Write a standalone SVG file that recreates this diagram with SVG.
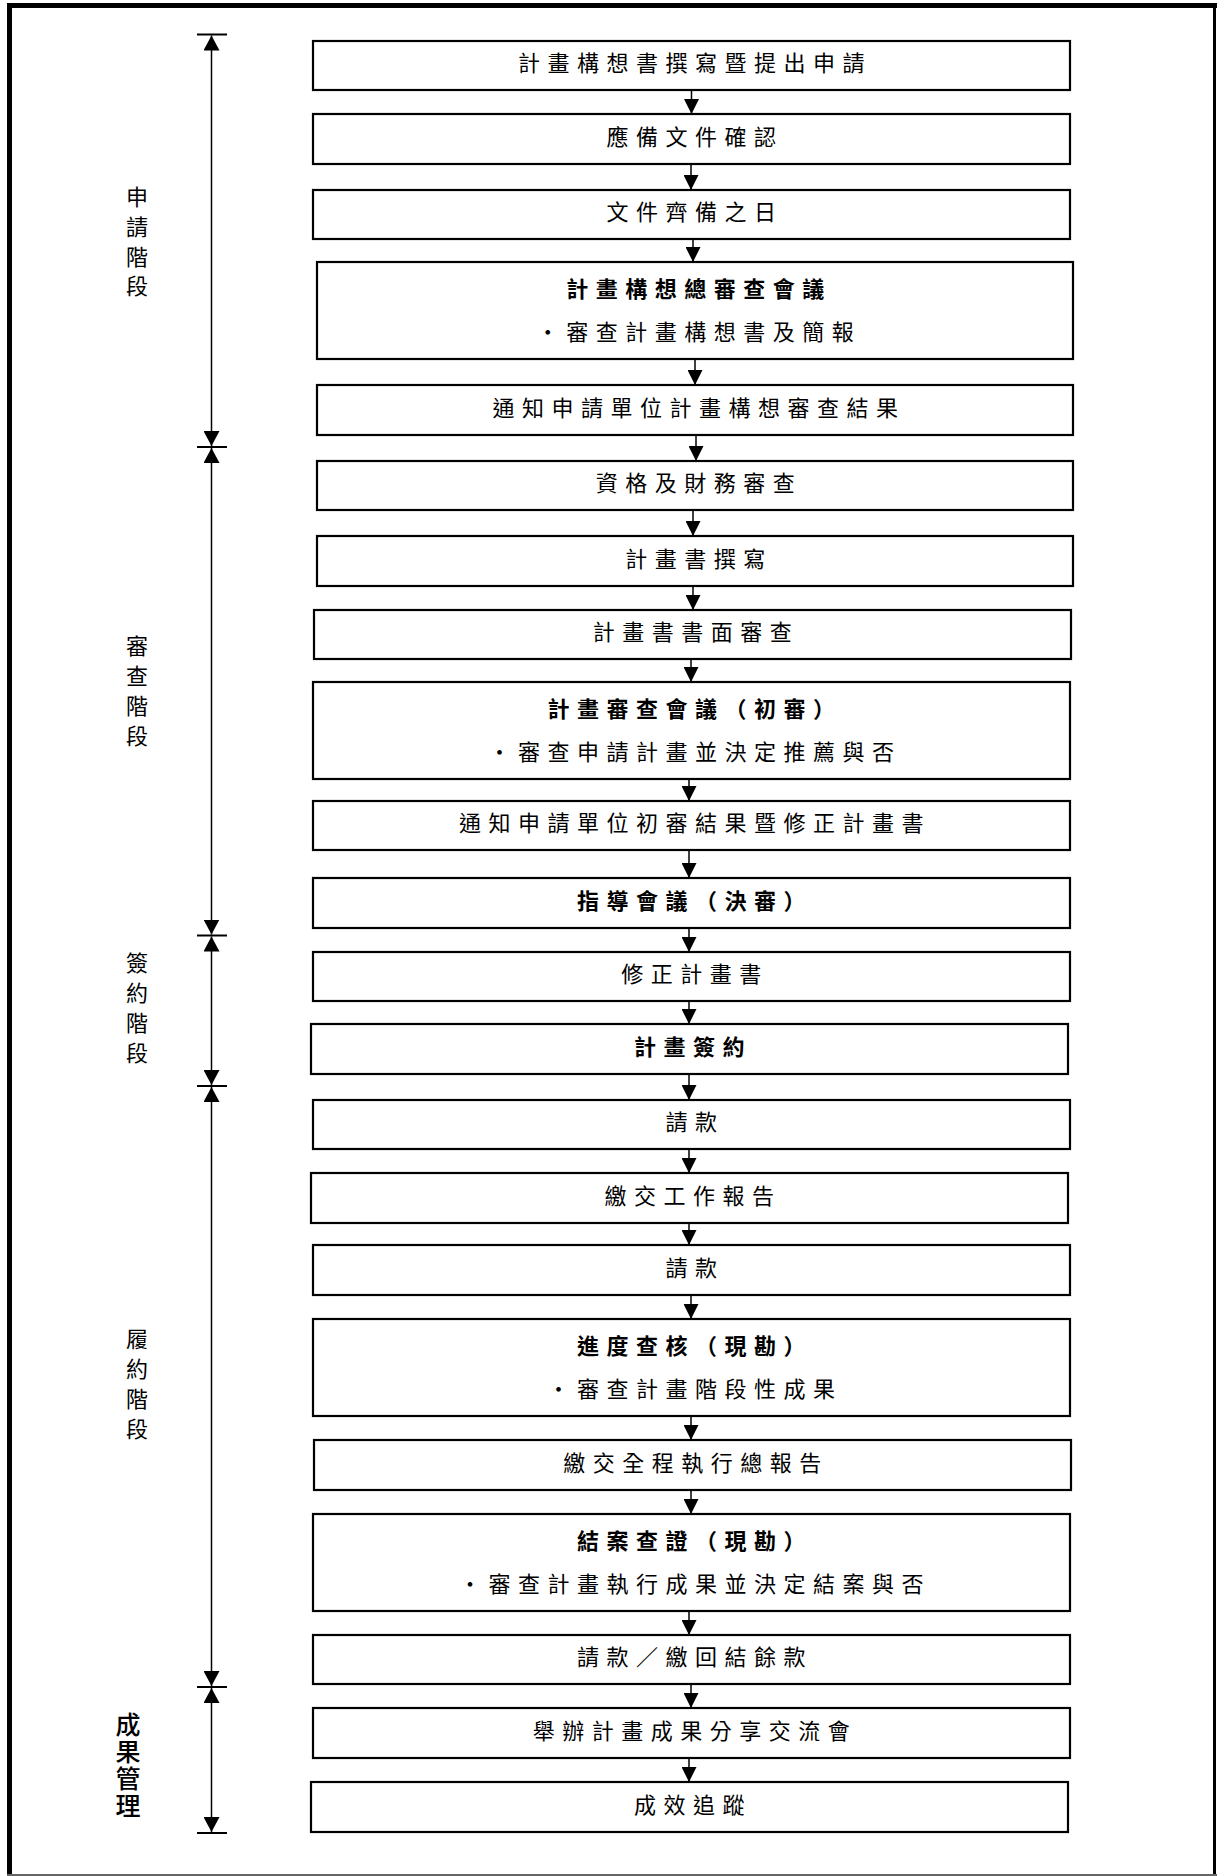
<svg xmlns="http://www.w3.org/2000/svg" width="1217" height="1876" viewBox="0 0 1217 1876">
<style>
.box{fill:#fff;stroke:#000;stroke-width:2.2}
.t{font-family:"Noto Sans CJK TC","Noto Sans CJK SC",sans-serif;font-size:22px;letter-spacing:7.5px;text-anchor:middle;fill:#000}
.b{font-weight:bold}
.side{font-family:"Noto Sans CJK TC","Noto Sans CJK SC",sans-serif;font-size:22px;text-anchor:middle;fill:#000}
.side2{font-family:"Noto Sans CJK TC","Noto Sans CJK SC",sans-serif;font-size:25px;font-weight:500;writing-mode:vertical-rl;letter-spacing:2px;fill:#000}
.conn{stroke:#000;stroke-width:1.5;fill:none;marker-end:url(#arr)}
.brk{stroke:#000;stroke-width:1.5;fill:none;marker-start:url(#barr);marker-end:url(#barr)}
.tick{stroke:#000;stroke-width:2}
</style>
<defs>
<marker id="arr" viewBox="0 0 15 15" refX="15" refY="7.5" markerWidth="15" markerHeight="15" markerUnits="userSpaceOnUse" orient="auto"><path d="M0,0 L15,7.5 L0,15 Z" fill="#000"/></marker>
<marker id="barr" viewBox="0 0 15 16" refX="15" refY="8" markerWidth="15" markerHeight="16" markerUnits="userSpaceOnUse" orient="auto-start-reverse"><path d="M0,0 L15,8 L0,16 Z" fill="#000"/></marker>
</defs>
<rect width="1217" height="1876" fill="#fff"/>
<g id="frame">
<line x1="9.5" y1="3" x2="9.5" y2="1876" stroke="#000" stroke-width="5"/>
<line x1="7" y1="5.5" x2="1217" y2="5.5" stroke="#000" stroke-width="5"/>
<line x1="1214.5" y1="3" x2="1214.5" y2="1876" stroke="#000" stroke-width="3"/>
<line x1="7" y1="1875" x2="1217" y2="1875" stroke="#666" stroke-width="2"/>
</g>
<g id="stages">
<g id="bracket">
<line class="tick" x1="197" y1="34.5" x2="227" y2="34.5"/>
<line class="tick" x1="197" y1="447" x2="227" y2="447"/>
<line class="tick" x1="197" y1="935.5" x2="227" y2="935.5"/>
<line class="tick" x1="197" y1="1086" x2="227" y2="1086"/>
<line class="tick" x1="197" y1="1687" x2="227" y2="1687"/>
<line class="tick" x1="197" y1="1833" x2="227" y2="1833"/>
<line class="brk" x1="211.5" y1="35.5" x2="211.5" y2="446"/>
<line class="brk" x1="211.5" y1="448" x2="211.5" y2="934.5"/>
<line class="brk" x1="211.5" y1="936.5" x2="211.5" y2="1085"/>
<line class="brk" x1="211.5" y1="1087" x2="211.5" y2="1686"/>
<line class="brk" x1="211.5" y1="1688" x2="211.5" y2="1832"/>
</g>
<text id="stage1" class="side"><tspan x="137" y="205">申</tspan><tspan x="137" y="235">請</tspan><tspan x="137" y="265">階</tspan><tspan x="137" y="294">段</tspan></text>
<text id="stage2" class="side"><tspan x="137" y="654">審</tspan><tspan x="137" y="684">查</tspan><tspan x="137" y="714">階</tspan><tspan x="137" y="744">段</tspan></text>
<text id="stage3" class="side"><tspan x="137" y="971">簽</tspan><tspan x="137" y="1001">約</tspan><tspan x="137" y="1031">階</tspan><tspan x="137" y="1061">段</tspan></text>
<text id="stage4" class="side"><tspan x="137" y="1347">履</tspan><tspan x="137" y="1377">約</tspan><tspan x="137" y="1407">階</tspan><tspan x="137" y="1437">段</tspan></text>
<text id="stage5" class="side2" x="128" y="1712">成果管理</text>
</g>
<g id="connectors">
<path class="conn" d="M691.5,90 V114"/>
<path class="conn" d="M691,164 V190"/>
<path class="conn" d="M693,239 V262"/>
<path class="conn" d="M695,359 V385"/>
<path class="conn" d="M696,435 V461"/>
<path class="conn" d="M693,510 V536"/>
<path class="conn" d="M693,586 V610"/>
<path class="conn" d="M691,659 V682"/>
<path class="conn" d="M689,779 V801"/>
<path class="conn" d="M689,850 V878"/>
<path class="conn" d="M689,928 V952"/>
<path class="conn" d="M689,1001 V1024"/>
<path class="conn" d="M689,1074 V1100"/>
<path class="conn" d="M689,1149 V1173"/>
<path class="conn" d="M689,1223 V1245"/>
<path class="conn" d="M691,1295 V1319"/>
<path class="conn" d="M691,1416 V1440"/>
<path class="conn" d="M691,1490 V1514"/>
<path class="conn" d="M689,1611 V1635"/>
<path class="conn" d="M691,1684 V1708"/>
<path class="conn" d="M689,1758 V1782"/>
</g>
<g id="n1"><rect class="box" x="313" y="41" width="757" height="49"/><text class="t" x="695" y="71">計畫構想書撰寫暨提出申請</text></g>
<g id="n2"><rect class="box" x="313" y="114" width="757" height="50"/><text class="t" x="695" y="144.5">應備文件確認</text></g>
<g id="n3"><rect class="box" x="313" y="190" width="757" height="49"/><text class="t" x="695" y="220">文件齊備之日</text></g>
<g id="n4"><rect class="box" x="317" y="262" width="756" height="97"/><text class="t b" x="699" y="297">計畫構想總審查會議</text><text class="t" x="699" y="339.5">・審查計畫構想書及簡報</text></g>
<g id="n5"><rect class="box" x="317" y="385" width="756" height="50"/><text class="t" x="699" y="415.5">通知申請單位計畫構想審查結果</text></g>
<g id="n6"><rect class="box" x="317" y="461" width="756" height="49"/><text class="t" x="699" y="491">資格及財務審查</text></g>
<g id="n7"><rect class="box" x="317" y="536" width="756" height="50"/><text class="t" x="699" y="566.5">計畫書撰寫</text></g>
<g id="n8"><rect class="box" x="314" y="610" width="757" height="49"/><text class="t" x="696" y="640">計畫書書面審查</text></g>
<g id="n9"><rect class="box" x="313" y="682" width="757" height="97"/><text class="t b" x="695" y="717">計畫審查會議（初審）</text><text class="t" x="695" y="759.5">・審查申請計畫並決定推薦與否</text></g>
<g id="n10"><rect class="box" x="313" y="801" width="757" height="49"/><text class="t" x="695" y="831">通知申請單位初審結果暨修正計畫書</text></g>
<g id="n11"><rect class="box" x="313" y="878" width="757" height="50"/><text class="t b" x="695" y="908.5">指導會議（決審）</text></g>
<g id="n12"><rect class="box" x="313" y="952" width="757" height="49"/><text class="t" x="695" y="982">修正計畫書</text></g>
<g id="n13"><rect class="box" x="311" y="1024" width="757" height="50"/><text class="t b" x="693" y="1054.5">計畫簽約</text></g>
<g id="n14"><rect class="box" x="313" y="1100" width="757" height="49"/><text class="t" x="695" y="1130">請款</text></g>
<g id="n15"><rect class="box" x="311" y="1173" width="757" height="50"/><text class="t" x="693" y="1203.5">繳交工作報告</text></g>
<g id="n16"><rect class="box" x="313" y="1245" width="757" height="50"/><text class="t" x="695" y="1275.5">請款</text></g>
<g id="n17"><rect class="box" x="313" y="1319" width="757" height="97"/><text class="t b" x="695" y="1354">進度查核（現勘）</text><text class="t" x="695" y="1396.5">・審查計畫階段性成果</text></g>
<g id="n18"><rect class="box" x="314" y="1440" width="757" height="50"/><text class="t" x="696" y="1470.5">繳交全程執行總報告</text></g>
<g id="n19"><rect class="box" x="313" y="1514" width="757" height="97"/><text class="t b" x="695" y="1549">結案查證（現勘）</text><text class="t" x="695" y="1591.5">・審查計畫執行成果並決定結案與否</text></g>
<g id="n20"><rect class="box" x="313" y="1635" width="757" height="49"/><text class="t" x="695" y="1665">請款／繳回結餘款</text></g>
<g id="n21"><rect class="box" x="313" y="1708" width="757" height="50"/><text class="t" x="695" y="1738.5">舉辦計畫成果分享交流會</text></g>
<g id="n22"><rect class="box" x="311" y="1782" width="757" height="50"/><text class="t" x="693" y="1812.5">成效追蹤</text></g>
</svg>
